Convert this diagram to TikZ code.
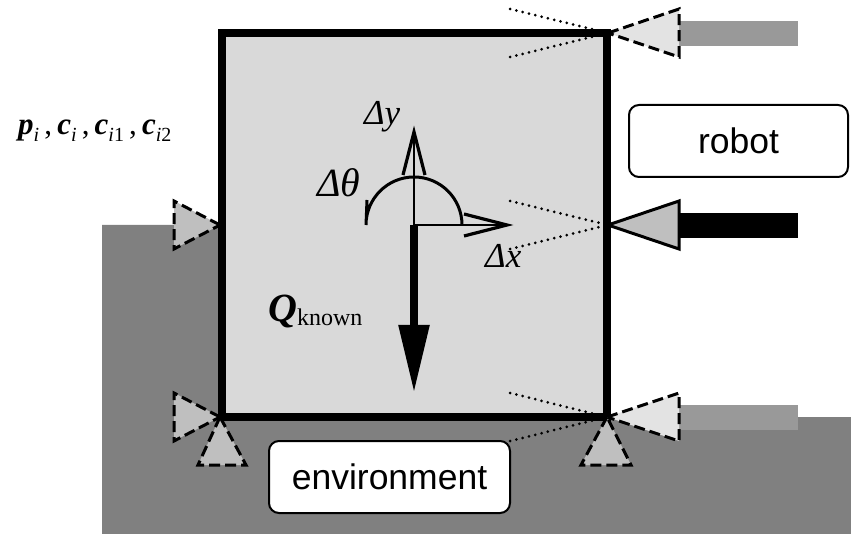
\documentclass[tikz,border=0pt]{standalone}
\usepackage{fontspec}
\setmainfont{Liberation Serif}
\newfontfamily\boxfont{Liberation Sans}
\usetikzlibrary{arrows.meta}
\definecolor{envgray}{HTML}{808080}
\definecolor{bodygray}{HTML}{D9D9D9}
\definecolor{bargray}{HTML}{999999}
\definecolor{conedark}{HTML}{BFBFBF}
\definecolor{conelight}{HTML}{E3E3E3}
\newcommand{\bvar}[2]{\textbf{\textit{#1}}\raisebox{-0.2em}{\fontsize{20}{20}\selectfont\textit{i}#2}}
\tikzset{
  cone/.style={draw=black, line width=3pt, line join=miter, fill=conedark},
  conedash/.style={cone, dash pattern=on 11pt off 5pt},
  conelite/.style={conedash, fill=conelight},
  coneline/.style={line width=3pt, line cap=round, dash pattern=on 0pt off 6.5pt},
  lbl/.style={inner sep=0pt, anchor=base west},
  tag/.style={draw=black, line width=2pt, fill=white, rounded corners=10pt, font=\boxfont\fontsize{35.5}{36}\selectfont},
  axis/.style={line width=2pt},
  barb/.style={line width=3.2pt, line join=miter, miter limit=10}
}
\begin{document}
\begin{tikzpicture}[x=1pt,y=-1pt]
  \useasboundingbox (0,0) rectangle (851,534);
  % environment and body
  \fill[envgray] (102,225) -- (222,225) -- (222,417) -- (851,417) -- (851,534) -- (102,534) -- cycle;
  \draw[fill=bodygray, line width=8pt, line join=miter] (222,33) rectangle (606.5,417);
  % robot fingers
  \fill[bargray] (679,21) rectangle (798,46);
  \fill[black] (679,213) rectangle (798,238);
  \fill[bargray] (679,405) rectangle (798,430);
  % friction cones
  \coordinate (tr) at (608,33);
  \coordinate (mr) at (608,225);
  \coordinate (br) at (607,417);
  \coordinate (ml) at (220,225);
  \coordinate (bl) at (220,417);
  \foreach \apex/\ya/\yb in {tr/9/57, mr/201/249, br/393/441}{
    \draw[coneline] (510,\ya) -- (\apex);
    \draw[coneline] (510,\yb) -- (\apex);
  }
  \draw[conelite] (tr) -- (679,9) -- (679,57) -- cycle;
  \draw[cone] (mr) -- (679,201) -- (679,249) -- cycle;
  \draw[conelite] (br) -- (679,393) -- (679,441) -- cycle;
  \draw[conedash] (br) -- (581,465) -- (631,465) -- cycle;
  \draw[conedash] (ml) -- (174,201) -- (174,249) -- cycle;
  \draw[conedash] (bl) -- (174,393) -- (174,441) -- cycle;
  \draw[conedash] (bl) -- (198,465) -- (246,465) -- cycle;
  % displacement
  \coordinate (o) at (414,225);
  \coordinate (dxend) at (507,225);
  \coordinate (dyend) at (414,132);
  \coordinate (qend) at (414,393);
  \draw[axis] (o) -- (dxend);
  \draw[axis] (o) -- (dyend);
  \draw[barb] (464,214) -- (dxend) -- (464,236);
  \draw[barb] (403,175) -- (dyend) -- (425,175);
  \draw[line width=3pt] (462,225) arc (0:-180:48) -- (367,200);
  \draw[line width=8.5pt, -{Triangle[length=68pt,width=29pt]}] (o) -- (qend);
  % labels
  \node[lbl, font=\fontsize{35}{35}\selectfont\itshape] (ly) at (364,125) {Δy};
  \node[lbl, font=\fontsize{40}{40}\selectfont\itshape] (lt) at (317,197) {Δθ};
  \node[lbl, font=\fontsize{35}{35}\selectfont\itshape] (lx) at (485,268) {Δx};
  \node[lbl, font=\fontsize{40}{40}\selectfont] (lq) at (268,322) {\textbf{\textit{Q}}\raisebox{-0.1em}{\fontsize{24}{24}\selectfont known}};
  \node[lbl, font=\fontsize{31}{31}\selectfont] (lp) at (18,135) {\bvar{p}{}\,,\,\bvar{c}{}\,,\,\bvar{c}{1}\,,\,\bvar{c}{2}};
  \node[tag, minimum width=219pt, minimum height=72pt] (robot) at (738.5,141) {robot};
  \node[tag, minimum width=241pt, minimum height=72pt] (env) at (389.5,477) {environment};
\end{tikzpicture}
\end{document}
